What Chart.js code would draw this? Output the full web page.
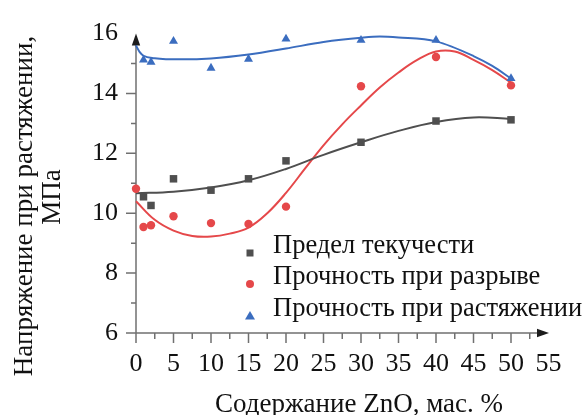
<!DOCTYPE html>
<html><head><meta charset="utf-8">
<script src="https://cdn.jsdelivr.net/npm/chart.js@4.4.0/dist/chart.umd.min.js"></script>
<style>html,body{margin:0;padding:0;background:#fff}#wrap{width:586px;height:415px}</style>
</head><body><div id="wrap"><canvas id="c" width="586" height="415"></canvas></div>
<script>
// ---- data ----
const seriesLabels = ['Предел текучести', 'Прочность при разрыве', 'Прочность при растяжении'];
const xTitle = 'Содержание ZnO, мас. %';
const yTitleLines = ['Напряжение при растяжении,', 'МПа'];

const yieldX = [1, 2, 5, 10, 15, 20, 30, 40, 50];
const yieldVals = [10.55, 10.26, 11.15, 10.77, 11.15, 11.75, 12.37, 13.08, 13.12];
const breakX = [0, 1, 2, 5, 10, 15, 20, 30, 40, 50];
const breakVals = [10.82, 9.54, 9.6, 9.9, 9.67, 9.64, 10.22, 14.24, 15.22, 14.27];
const tensileX = [1, 2, 5, 10, 15, 20, 30, 40, 50];
const tensileVals = [15.12, 15.05, 15.75, 14.85, 15.15, 15.82, 15.78, 15.78, 14.5];

// fitted curves
const yieldFitX = [0, 5, 10, 15, 20, 25, 30, 35, 40, 45, 50];
const yieldFitVals = [10.67, 10.72, 10.86, 11.1, 11.48, 11.95, 12.37, 12.75, 13.05, 13.2, 13.15];
const breakFitX = [0, 2.5, 5, 7.5, 10, 12.5, 15, 17.5, 20, 22.5, 25, 27.5, 30, 32.5, 35, 37.5, 40, 42.5, 45, 47.5, 50];
const breakFitVals = [10.4, 9.78, 9.42, 9.24, 9.22, 9.32, 9.52, 10.0, 10.68, 11.48, 12.27, 12.97, 13.6, 14.2, 14.7, 15.12, 15.4, 15.4, 15.12, 14.78, 14.36];
const tensileFitX = [0, 0.5, 1, 2.5, 6, 10, 15, 20, 25, 30, 32.5, 35, 40, 45, 47.5, 50];
const tensileFitVals = [15.6, 15.38, 15.26, 15.18, 15.14, 15.17, 15.3, 15.5, 15.72, 15.86, 15.9, 15.87, 15.74, 15.25, 14.92, 14.5];

const xMin = 0, xMax = 55, xStep = 5;
const yMin = 6, yMax = 16, yStep = 2;

// ---- styles ----
const FONT = "'Liberation Serif', 'DejaVu Serif', serif";
const GRAY = '#4f4f4f', RED = '#e5484a', BLUE = '#3b6dbf';
const AXIS = '#707070', ARROW = '#1c1c1c', TEXT = '#111111';

const pts = (xs, ys) => xs.map((x, i) => ({x, y: ys[i]}));

const scatterDs = (label, xs, ys, color, style, r) => ({
  label, data: pts(xs, ys), backgroundColor: color, borderColor: color, borderWidth: 0,
  pointStyle: style, pointRadius: r, showLine: false, clip: false
});
const fitDs = (xs, ys, color, mode) => ({
  data: pts(xs, ys), borderColor: color, backgroundColor: color, borderWidth: 2,
  pointRadius: 0, showLine: true, tension: 0.4, cubicInterpolationMode: mode, fill: false, clip: false
});

const decoPlugin = {
  id: 'deco',
  beforeDatasetsDraw(chart) {
    const {ctx, scales: {x, y}} = chart;
    const x0 = x.getPixelForValue(xMin), y0 = y.getPixelForValue(yMin);
    const xE = x.getPixelForValue(xMax), yE = y.getPixelForValue(yMax);
    ctx.save();
    ctx.strokeStyle = AXIS; ctx.lineWidth = 1.5;
    ctx.beginPath();
    ctx.moveTo(x0, y0); ctx.lineTo(xE - 8, y0);
    ctx.moveTo(x0, y0 + 0.75); ctx.lineTo(x0, yE + 8);
    x.ticks.forEach(t => {
      const v = t.value;
      if (v < xMax) {
        const p = x.getPixelForValue(v);
        ctx.moveTo(p, y0); ctx.lineTo(p, y0 + 10);
      }
      const m = v + xStep / 2;
      if (m < xMax) {
        const p = x.getPixelForValue(m);
        ctx.moveTo(p, y0); ctx.lineTo(p, y0 + 6);
      }
    });
    y.ticks.forEach(t => {
      const v = t.value;
      if (v < yMax) {
        const p = y.getPixelForValue(v);
        ctx.moveTo(x0, p); ctx.lineTo(x0 - 10, p);
      }
      const m = v + yStep / 2;
      if (m < yMax) {
        const p = y.getPixelForValue(m);
        ctx.moveTo(x0, p); ctx.lineTo(x0 - 5, p);
      }
    });
    ctx.stroke();
    ctx.fillStyle = ARROW;
    ctx.beginPath();
    ctx.moveTo(xE + 0.5, y0); ctx.lineTo(xE - 11.5, y0 - 4.2); ctx.lineTo(xE - 11.5, y0 + 4.2); ctx.closePath();
    ctx.fill();
    ctx.beginPath();
    ctx.moveTo(x0, yE); ctx.lineTo(x0 - 4.2, yE + 12); ctx.lineTo(x0 + 4.2, yE + 12); ctx.closePath();
    ctx.fill();
    ctx.restore();
  },
  afterDraw(chart) {
    const {ctx} = chart;
    ctx.save();
    ctx.fillStyle = TEXT;
    ctx.font = '27px ' + FONT;
    ctx.textAlign = 'center'; ctx.textBaseline = 'alphabetic';
    ctx.fillText(xTitle, 359, 412);
    ctx.save(); ctx.translate(32, 206); ctx.rotate(-Math.PI / 2);
    ctx.fillText(yTitleLines[0], 0, 0); ctx.restore();
    ctx.save(); ctx.translate(60, 197); ctx.rotate(-Math.PI / 2);
    ctx.fillText(yTitleLines[1], 0, 0); ctx.restore();
    const rows = [253, 284, 316];
    ctx.font = '26.5px ' + FONT;
    ctx.textAlign = 'left';
    chart.data.datasets.slice(0, 3).forEach((ds, i) => {
      const cy = rows[i], cx = 250;
      ctx.fillStyle = ds.backgroundColor;
      ctx.beginPath();
      if (ds.pointStyle === 'rect') ctx.rect(cx - 3.5, cy - 3.5, 7, 7);
      else if (ds.pointStyle === 'circle') ctx.arc(cx, cy, 4, 0, Math.PI * 2);
      else { ctx.moveTo(cx, cy - 5); ctx.lineTo(cx + 5, cy + 3.5); ctx.lineTo(cx - 5, cy + 3.5); ctx.closePath(); }
      ctx.fill();
      ctx.fillStyle = TEXT;
      ctx.fillText(ds.label, 273, cy);
    });
    ctx.restore();
  }
};

function build() {
  new Chart(document.getElementById('c'), {
    type: 'scatter',
    data: {
      datasets: [
        scatterDs(seriesLabels[0], yieldX, yieldVals, GRAY, 'rect', 5.3),
        scatterDs(seriesLabels[1], breakX, breakVals, RED, 'circle', 4.2),
        scatterDs(seriesLabels[2], tensileX, tensileVals, BLUE, 'triangle', 5.2),
        fitDs(yieldFitX, yieldFitVals, GRAY, 'default'),
        fitDs(breakFitX, breakFitVals, RED, 'default'),
        fitDs(tensileFitX, tensileFitVals, BLUE, 'monotone')
      ]
    },
    options: {
      responsive: false, animation: false, devicePixelRatio: 1,
      layout: {padding: {top: 27, right: 37.5, left: 0, bottom: 0}},
      plugins: {legend: {display: false}, tooltip: {enabled: false}},
      scales: {
        x: {
          type: 'linear', min: xMin, max: xMax,
          ticks: {stepSize: xStep, font: {family: FONT, size: 26}, color: TEXT, padding: 16, maxRotation: 0, autoSkip: false},
          grid: {display: false, drawTicks: false}, border: {display: false},
          afterFit(s) { s.height = 82; }
        },
        y: {
          min: yMin, max: yMax,
          ticks: {stepSize: yStep, font: {family: FONT, size: 26}, color: TEXT, padding: 18},
          grid: {display: false, drawTicks: false}, border: {display: false},
          afterFit(s) { s.width = 136; }
        }
      }
    },
    plugins: [decoPlugin]
  });
}
const fontLoads = document.fonts && document.fonts.load
  ? Promise.all([document.fonts.load("26px 'Liberation Serif'", 'ПрАa0'), document.fonts.load("27px 'Liberation Serif'", 'Сa')]).catch(() => {})
  : Promise.resolve();
fontLoads.then(build, build);
</script></body></html>
